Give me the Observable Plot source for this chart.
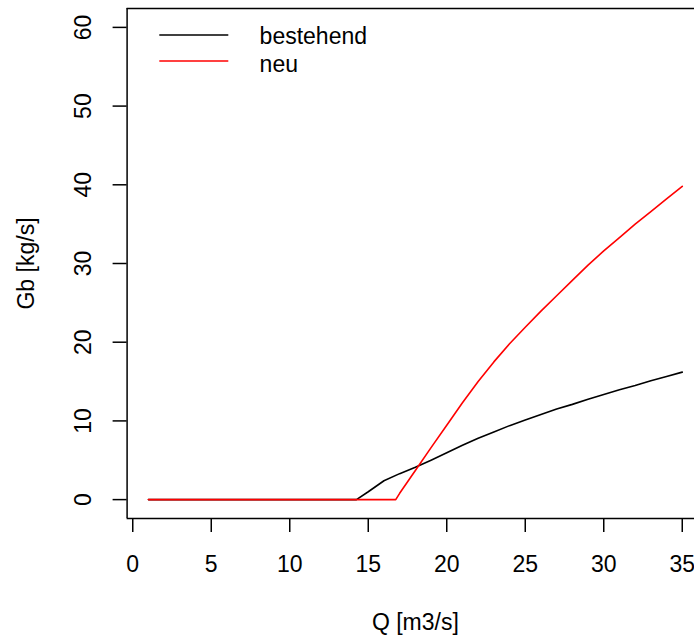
<!DOCTYPE html>
<html>
<head>
<meta charset="utf-8">
<script src="https://cdn.jsdelivr.net/npm/d3@7"></script>
<script src="https://cdn.jsdelivr.net/npm/@observablehq/plot@0.6"></script>
<style>
  html, body { margin: 0; padding: 0; background: #fff; }
  #chart svg { display: block; }
</style>
</head>
<body>
<div id="chart"></div>
<script>
// ---- data ----
const qBestehend = [1, 14.25, 15, 16, 17, 18, 19, 20, 21, 22, 23, 24, 25, 26, 27, 28, 29, 30, 31, 32, 33, 34, 35];
const gbBestehend = [0, 0, 1.0, 2.4, 3.3, 4.1, 5.0, 5.95, 6.9, 7.8, 8.6, 9.4, 10.1, 10.8, 11.5, 12.1, 12.75, 13.35, 13.95, 14.5, 15.1, 15.65, 16.2];

const qNeu = [1, 16.75, 17, 18, 19, 20, 21, 22, 23, 24, 25, 26, 27, 28, 29, 30, 31, 32, 33, 34, 35];
const gbNeu = [0, 0, 0.8, 3.7, 6.6, 9.45, 12.3, 15.0, 17.5, 19.8, 21.9, 23.95, 25.9, 27.85, 29.8, 31.6, 33.3, 35.0, 36.6, 38.2, 39.8];

const seriesNames = ["bestehend", "neu"];
const seriesColors = ["#000000", "#ff0000"];

const xTicks = [0, 5, 10, 15, 20, 25, 30, 35];
const yTicks = [0, 10, 20, 30, 40, 50, 60];
const xLabel = "Q [m3/s]";
const yLabel = "Gb [kg/s]";

// ---- build table ----
const rows = [
  ...qBestehend.map((q, i) => ({series: seriesNames[0], q, gb: gbBestehend[i]})),
  ...qNeu.map((q, i) => ({series: seriesNames[1], q, gb: gbNeu[i]}))
];

const xDomain = [-0.36, 35.78];
const yDomain = [-2.4, 62.4];
const FS = 23;
const FONT = "'Liberation Sans', Arial, Helvetica, sans-serif";

// R-style legend in the top-left corner of the plot region
function legend(index, scales, values, dims) {
  const g = d3.create("svg:g");
  seriesNames.forEach((name, i) => {
    const yLine = dims.marginTop + 27 + i * 26;
    g.append("line")
      .attr("x1", dims.marginLeft + 32.7)
      .attr("x2", dims.marginLeft + 101.7)
      .attr("y1", yLine)
      .attr("y2", yLine)
      .attr("stroke", seriesColors[i])
      .attr("stroke-width", 1.5);
    g.append("text")
      .attr("x", dims.marginLeft + 133)
      .attr("y", dims.marginTop + 36.3 + i * 27.7)
      .attr("font-size", FS)
      .attr("text-anchor", "start")
      .attr("fill", "#000")
      .text(name);
  });
  return g.node();
}

const chart = Plot.plot({
  width: 694,
  height: 635,
  marginLeft: 126.6,
  marginRight: 0,
  marginTop: 8,
  marginBottom: 117,
  style: {fontFamily: FONT, fontSize: FS + "px", background: "#fff", color: "#000"},
  x: {domain: xDomain, axis: null},
  y: {domain: yDomain, axis: null},
  color: {domain: seriesNames, range: seriesColors},
  marks: [
    // box (left, top, bottom)
    Plot.ruleX([xDomain[0]], {stroke: "#000", strokeWidth: 1.5}),
    Plot.ruleY([yDomain[0], yDomain[1]], {stroke: "#000", strokeWidth: 1.5}),
    // x axis ticks + labels
    Plot.axisX({ticks: xTicks, tickSize: 14, tickPadding: 23, fontSize: FS, label: null, stroke: "#000", strokeWidth: 1.5, tickFormat: d => String(d)}),
    // y axis ticks
    Plot.axisY({ticks: yTicks, tickSize: 14, tickFormat: () => "", label: null, stroke: "#000", strokeWidth: 1.5}),
    // y tick labels (rotated, R style)
    Plot.text(yTicks, {x: xDomain[0], y: d => d, text: d => String(d), rotate: -90, textAnchor: "middle", lineAnchor: "bottom", dx: -36.6, fontSize: FS}),
    // axis titles
    Plot.text([xLabel], {x: (-0.36 + 36.36) / 2, y: yDomain[0], text: d => d, lineAnchor: "bottom", dy: 111, fontSize: FS}),
    Plot.text([yLabel], {x: xDomain[0], y: (yDomain[0] + yDomain[1]) / 2, text: d => d, rotate: -90, textAnchor: "middle", lineAnchor: "bottom", dx: -93.4, fontSize: FS}),
    // data lines
    Plot.line(rows, {x: "q", y: "gb", z: "series", stroke: "series", strokeWidth: 1.6}),
    // legend
    legend
  ]
});

document.getElementById("chart").appendChild(chart);
</script>
</body>
</html>
